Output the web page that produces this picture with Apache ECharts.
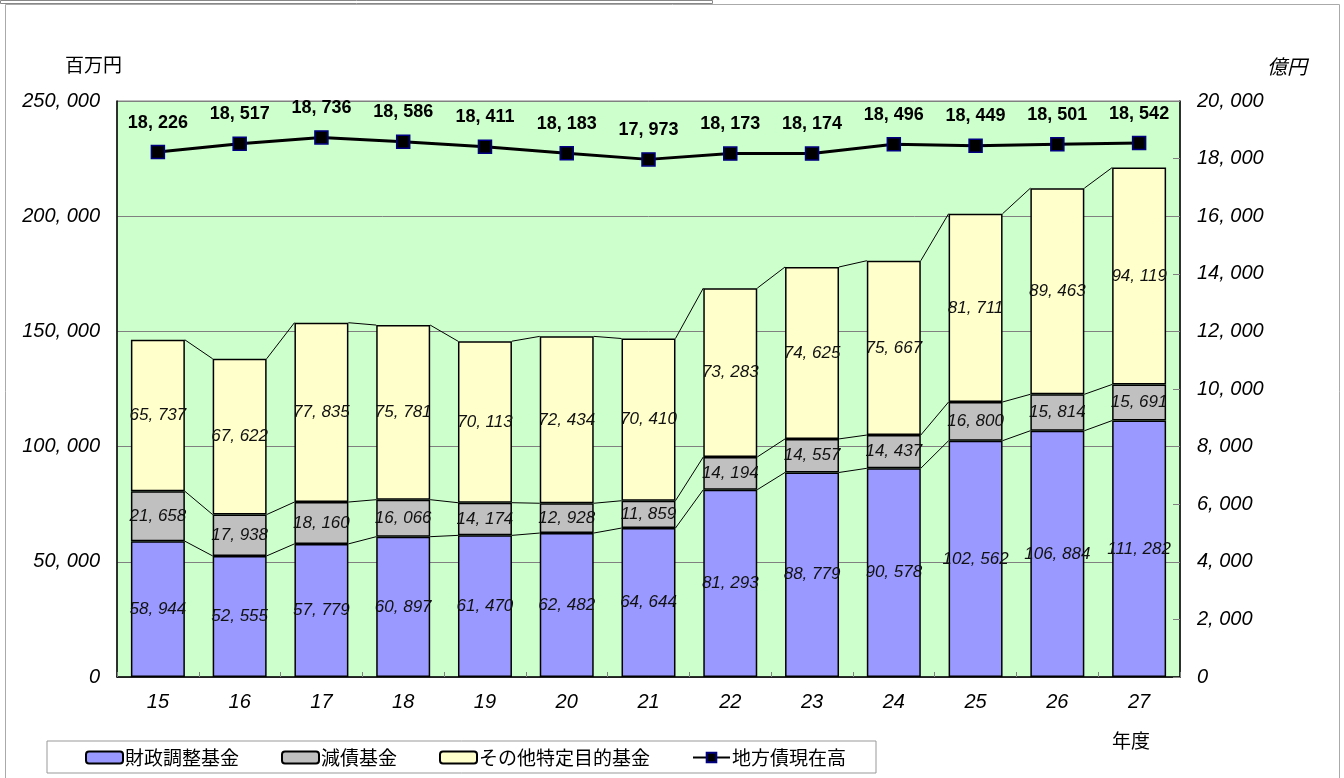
<!DOCTYPE html>
<html>
<head>
<meta charset="utf-8">
<script src="https://cdn.jsdelivr.net/npm/echarts@6/dist/echarts.min.js"></script>
<style>
  html, body { margin: 0; padding: 0; background: #fff; }
  #chart { width: 1344px; height: 778px; }
</style>
</head>
<body>
<div id="chart"></div>
<script>
// 年度
var years = ['15', '16', '17', '18', '19', '20', '21', '22', '23', '24', '25', '26', '27'];
// 百万円
var zaiseiChosei = [58944, 52555, 57779, 60897, 61470, 62482, 64644, 81293, 88779, 90578, 102562, 106884, 111282];
var gensai = [21658, 17938, 18160, 16066, 14174, 12928, 11859, 14194, 14557, 14437, 16800, 15814, 15691];
var sonota = [65737, 67622, 77835, 75781, 70113, 72434, 70410, 73283, 74625, 75667, 81711, 89463, 94119];
// 億円
var chihousai = [18226, 18517, 18736, 18586, 18411, 18183, 17973, 18173, 18174, 18496, 18449, 18501, 18542];

var leftTicks = [0, 250000, 50000];   // min, max, interval
var rightTicks = [0, 20000, 2000];

var numFont = '"Liberation Sans", Arial, sans-serif';
var jpFont = '"Noto Sans CJK JP", sans-serif';

function fmt(v) {
  return String(v).replace(/\B(?=(\d{3})+(?!\d))/g, ', ');
}

// 系列線用の累計
var linkData = [];
for (var i = 0; i < years.length - 1; i++) {
  var a1 = zaiseiChosei[i], a2 = a1 + gensai[i], a3 = a2 + sonota[i];
  var b1 = zaiseiChosei[i + 1], b2 = b1 + gensai[i + 1], b3 = b2 + sonota[i + 1];
  linkData.push([i, a1, a2, a3, b1, b2, b3]);
}

var barRatio = 0.66;

var chart = echarts.init(document.getElementById('chart'));
var barLabel = {
  show: true,
  position: 'inside',
  fontFamily: numFont,
  fontStyle: 'italic',
  fontSize: 17,
  color: '#111',
  formatter: function (p) { return fmt(p.value); }
};
var barItem = function (c) {
  return { color: c, borderColor: '#000', borderWidth: 1.5 };
};

var option = {
  animation: false,
  backgroundColor: '#fff',
  grid: {
    left: 117, right: 164, top: 101, bottom: 101,
    show: true,
    backgroundColor: '#CCFFCC',
    borderColor: '#808080',
    borderWidth: 1
  },
  legend: {
    data: ['財政調整基金', '減債基金', 'その他特定目的基金', '地方債現在高'],
    left: 47,
    top: 741,
    padding: [7, 30, 6, 38],
    itemGap: 42,
    itemWidth: 37,
    itemHeight: 12,
    borderColor: '#999',
    borderWidth: 1,
    textStyle: { fontFamily: jpFont, fontSize: 19, color: '#000', padding: [0, 0, 0, -3] }
  },
  graphic: [
    { type: 'rect', shape: { x: 0.5, y: 0.5, width: 712, height: 3 }, style: { fill: 'none', stroke: '#888', lineWidth: 1 }, silent: true },
    { type: 'polyline', shape: { points: [[5.5, 778], [5.5, 4.5], [1339.5, 4.5], [1339.5, 778]] }, style: { fill: 'none', stroke: '#aaa', lineWidth: 1 }, silent: true },
    { type: 'text', left: 65, top: 55, style: { text: '百万円', font: '19px ' + jpFont, fill: '#000' } },
    { type: 'text', left: 1267, top: 56, style: { text: '億円', font: 'italic 20px ' + jpFont, fill: '#000' } },
    { type: 'text', left: 1112, top: 731, style: { text: '年度', font: '19px ' + jpFont, fill: '#000' } }
  ],
  xAxis: {
    type: 'category',
    data: years,
    axisLine: { lineStyle: { color: '#000', width: 1.5 } },
    axisTick: { show: true, inside: true, length: 5, lineStyle: { color: '#808080' } },
    axisLabel: { fontFamily: numFont, fontStyle: 'italic', fontSize: 20, color: '#000', margin: 15 }
  },
  yAxis: [
    {
      type: 'value',
      min: leftTicks[0], max: leftTicks[1], interval: leftTicks[2],
      axisLine: { show: true, lineStyle: { color: '#000', width: 1.5 } },
      axisTick: { show: false },
      splitLine: { lineStyle: { color: '#808080', width: 1 } },
      axisLabel: { fontFamily: numFont, fontStyle: 'italic', fontSize: 20, color: '#000', margin: 17, formatter: fmt }
    },
    {
      type: 'value',
      min: rightTicks[0], max: rightTicks[1], interval: rightTicks[2],
      position: 'right',
      axisLine: { show: true, lineStyle: { color: '#000', width: 1.5 } },
      axisTick: { show: true, inside: true, length: 7, lineStyle: { color: '#808080' } },
      splitLine: { show: false },
      axisLabel: { fontFamily: numFont, fontStyle: 'italic', fontSize: 20, color: '#000', margin: 17, formatter: fmt }
    }
  ],
  series: [
    {
      name: '財政調整基金', type: 'bar', stack: 'kikin', barCategoryGap: '34%',
      data: zaiseiChosei, itemStyle: barItem('#9999FF'), label: barLabel
    },
    {
      name: '減債基金', type: 'bar', stack: 'kikin',
      data: gensai, itemStyle: barItem('#C0C0C0'), label: barLabel
    },
    {
      name: 'その他特定目的基金', type: 'bar', stack: 'kikin',
      data: sonota, itemStyle: barItem('#FFFFCC'), label: barLabel
    },
    {
      name: 'series-lines', type: 'custom', silent: true, z: 1,
      data: linkData,
      encode: { x: 0, y: 3 },
      renderItem: function (params, api) {
        var band = api.size([1, 0])[0];
        var half = band * barRatio / 2;
        var idx = api.value(0);
        var kids = [];
        for (var k = 1; k <= 3; k++) {
          var p0 = api.coord([idx, api.value(k)]);
          var p1 = api.coord([idx + 1, api.value(k + 3)]);
          kids.push({
            type: 'line',
            shape: { x1: p0[0] + half, y1: p0[1], x2: p1[0] - half, y2: p1[1] },
            style: { stroke: '#000', lineWidth: 1 }
          });
        }
        return { type: 'group', children: kids };
      }
    },
    {
      name: '地方債現在高', type: 'line', yAxisIndex: 1,
      data: chihousai,
      symbol: 'rect', symbolSize: 13,
      lineStyle: { color: '#000', width: 3 },
      itemStyle: { color: '#000', borderColor: '#000080', borderWidth: 1.5 },
      label: {
        show: true, position: 'top', distance: 13,
        fontFamily: numFont, fontWeight: 'bold', fontSize: 18, color: '#000',
        formatter: function (p) { return fmt(p.value); }
      },
      z: 5
    }
  ]
};
chart.setOption(option);
</script>
</body>
</html>
